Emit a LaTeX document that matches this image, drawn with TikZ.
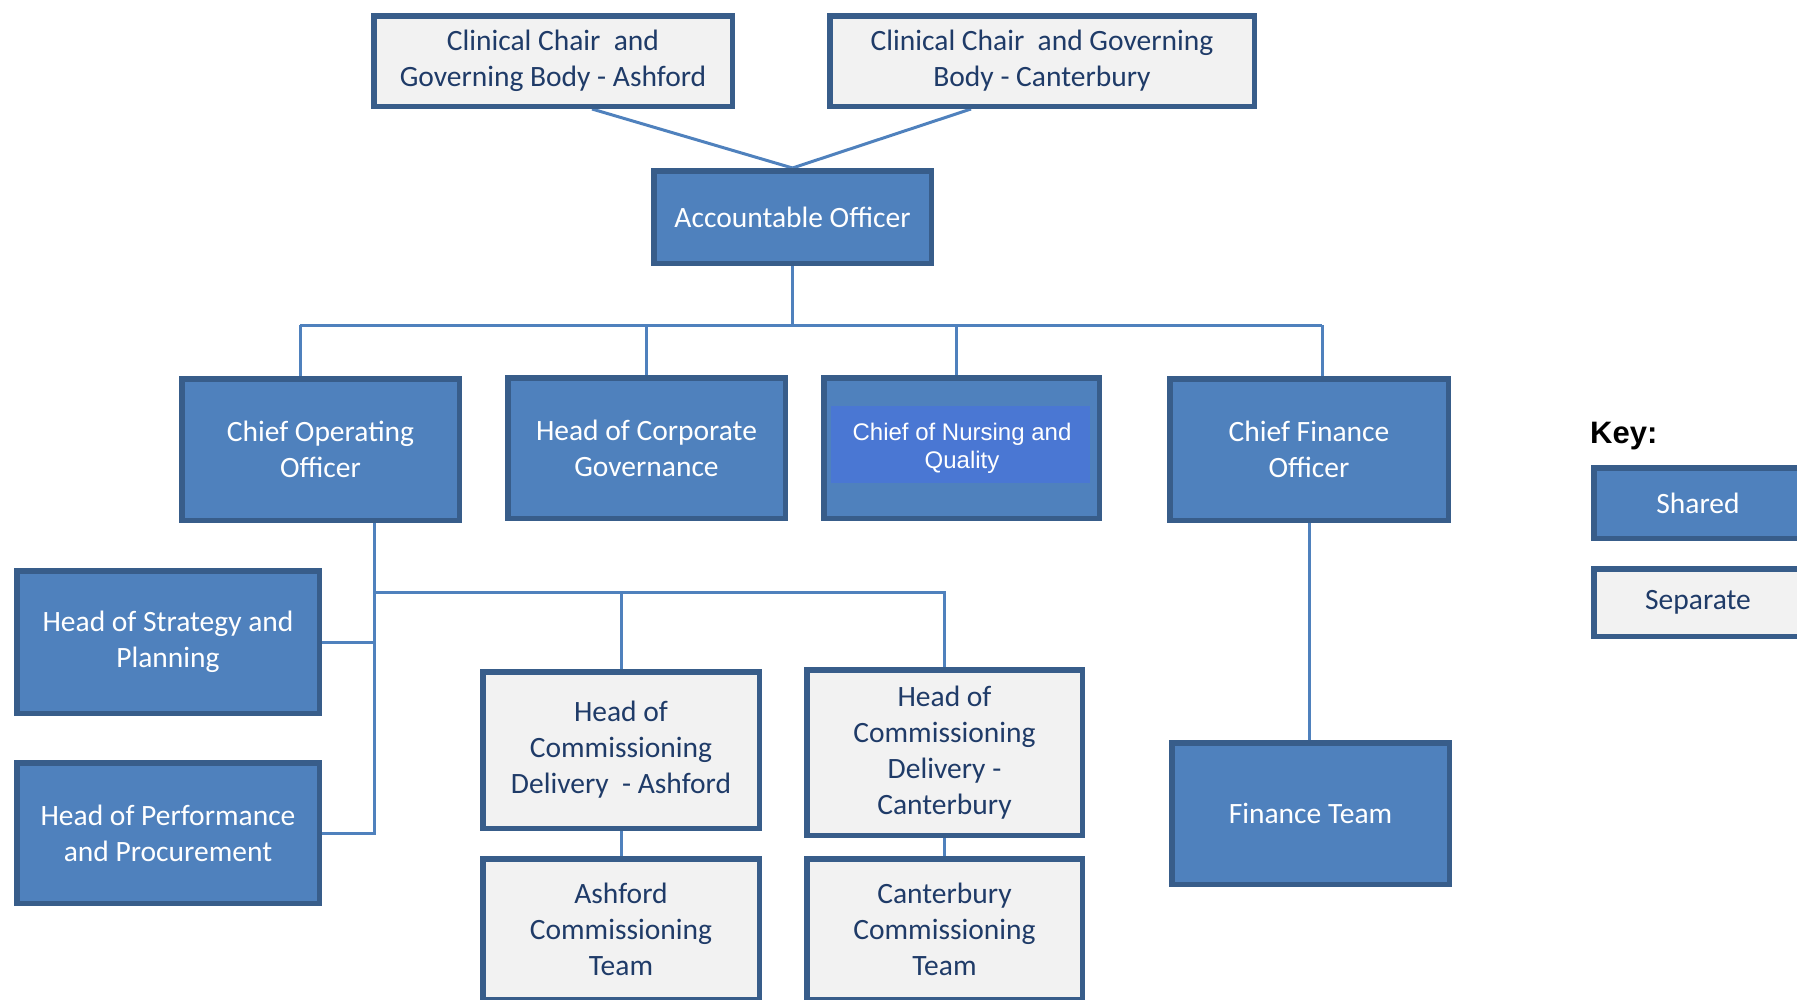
\documentclass[tikz,border=0pt]{standalone}
\usepackage{fontspec}
\setmainfont{Carlito}
\newfontfamily\arialf{Liberation Sans}
\usetikzlibrary{backgrounds}
\definecolor{shfill}{HTML}{4F81BD}
\definecolor{bord}{HTML}{385D8A}
\definecolor{sepfill}{HTML}{F2F2F2}
\definecolor{septext}{HTML}{1F3B68}
\definecolor{linec}{HTML}{4F81BD}
\definecolor{nurse}{HTML}{4A77D3}
\tikzset{
  box/.style={draw=bord, line width=5.5pt, align=center, inner sep=0pt,
    font=\fontsize{29.5}{36}\selectfont},
  shared/.style={box, fill=shfill, text=white},
  separate/.style={box, fill=sepfill, text=septext},
  conn/.style={draw=linec, line width=3pt},
  dim/.style 2 args={minimum width=#1pt-5.5pt, minimum height=#2pt-5.5pt},
}
\begin{document}
\begin{tikzpicture}[x=1pt,y=-1pt]
\useasboundingbox (0,0) rectangle (1797,999);
\clip (0,0) rectangle (1797,999);

\node[separate, dim={364}{96}] (CCA) at (553,61) {Clinical Chair~ and\\Governing Body - Ashford};
\node[separate, dim={430}{96}] (CCC) at (1042,61) {Clinical Chair~ and Governing\\Body - Canterbury};
\node[shared, dim={283}{98}] (AO) at (792.5,217) {Accountable Officer};

\node[shared, dim={283}{147}] (COO) at (320.5,449.5) {Chief Operating\\Officer};
\node[shared, dim={283}{146}] (HCG) at (646.5,448) {Head of Corporate\\Governance};
\node[shared, dim={281}{146}] (CNQ) at (961.5,448) {};
\node[fill=nurse, minimum width=259pt, minimum height=77pt, inner sep=0pt] (CNQin) at (960.5,444) {};
\node[text=white, align=center, font=\arialf\fontsize{24}{28}\selectfont] (CNQt) at (962,448) {Chief of Nursing and\\Quality};
\node[shared, dim={284}{147}] (CFO) at (1309,449.5) {Chief Finance\\Officer};

\node[shared, dim={308}{148}] (HSP) at (168,642) {Head of Strategy and\\Planning};
\node[shared, dim={308}{146}] (HPP) at (168,833) {Head of Performance\\and Procurement};

\node[separate, dim={282}{162}] (HCDA) at (621,750) {Head of\\Commissioning\\Delivery~ - Ashford};
\node[separate, dim={281}{171}] (HCDC) at (944.5,752.5) {Head of\\Commissioning\\Delivery -\\Canterbury};
\node[separate, dim={282}{146}] (ACT) at (621,929) {Ashford\\Commissioning\\Team};
\node[separate, dim={281}{146}] (CCT) at (944.5,929) {Canterbury\\Commissioning\\Team};
\node[shared, dim={283}{147}] (FT) at (1310.5,813.5) {Finance Team};

\node[anchor=west, inner sep=0pt, font=\arialf\bfseries\fontsize{31}{34}\selectfont] (KEY) at (1590,436) {Key:};
\node[shared, dim={214}{76}] (KS) at (1698,503) {Shared};
\node[separate, dim={214}{73}] (KP) at (1698,602.5) {Separate};

\coordinate (busL) at (300,325);
\coordinate (busR) at (1322,325);
\coordinate (v2) at (374,592);

\begin{pgfonlayer}{background}
\draw[conn] ([xshift=39pt]CCA.south) -- (AO.north);
\draw[conn] ([xshift=-71pt]CCC.south) -- (AO.north);
\draw[conn] (AO.south) -- (AO.south |- busL);
\draw[conn] (busL) -- (busR);
\draw[conn] (busL) -- (busL |- COO.north);
\draw[conn] (HCG.north) -- (HCG.north |- busL);
\draw[conn] ([xshift=-5pt]CNQ.north) -- ([xshift=-5pt]CNQ.north |- busL);
\draw[conn] (busR) -- (busR |- CFO.north);
\draw[conn] (v2 |- COO.south) -- (v2 |- HPP.east) -- (HPP.east);
\draw[conn] (HSP.east) -- (HSP.east -| v2);
\draw[conn] (v2) -| (HCDC.north);
\draw[conn] (HCDA.north) -- (HCDA.north |- v2);
\draw[conn] (HCDA.south) -- (ACT.north);
\draw[conn] (HCDC.south) -- (CCT.north);
\draw[conn] (CFO.south) -- (CFO.south |- FT.north);
\end{pgfonlayer}
\end{tikzpicture}
\end{document}
